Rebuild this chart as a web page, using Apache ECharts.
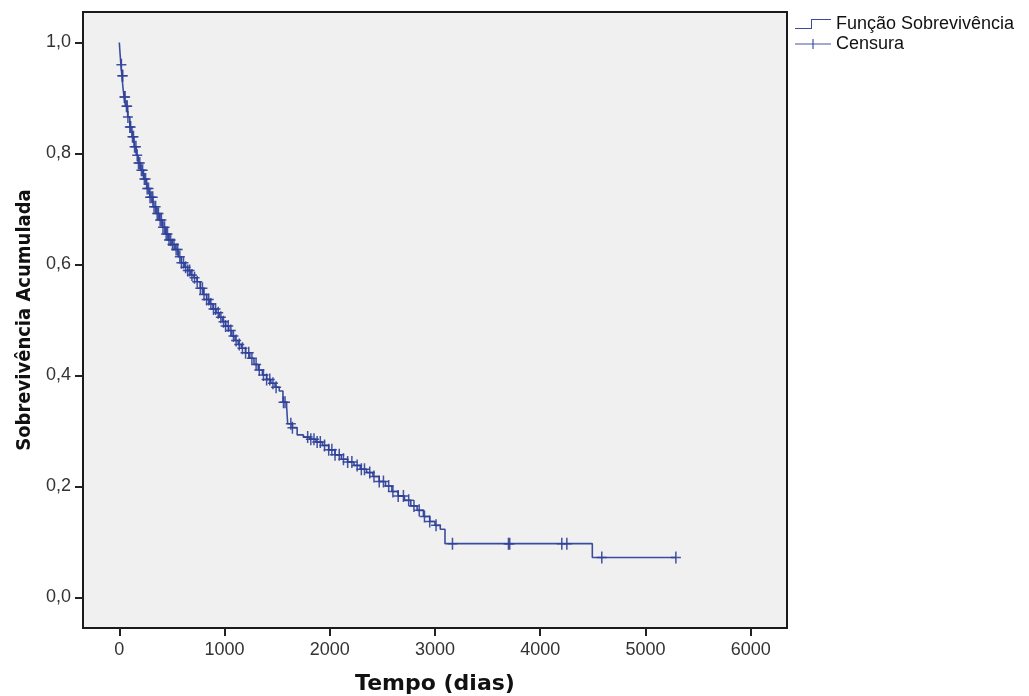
<!DOCTYPE html>
<html>
<head>
<meta charset="utf-8">
<title>Função Sobrevivência</title>
<script src="https://cdn.jsdelivr.net/npm/echarts@6/dist/echarts.min.js"></script>
<style>
  html, body { margin: 0; padding: 0; background: #ffffff; }
  #chart { width: 1029px; height: 696px; }
</style>
</head>
<body>
<div id="chart"></div>
<script>
// Kaplan–Meier estimate: event times (days) and cumulative survival after each drop
const survTime = [
  0, 8, 15, 25, 35, 45, 60, 80, 100, 120, 140, 160, 180, 200, 230, 260, 290, 320,
  350, 380, 410, 440, 470, 500, 530, 560, 590, 620, 650, 680, 710, 740, 770, 800,
  830, 860, 890, 920, 950, 980, 1010, 1040, 1070, 1100, 1130, 1160, 1200, 1240,
  1280, 1320, 1360, 1400, 1440, 1480, 1520, 1555, 1590, 1600, 1645, 1690, 1750,
  1810, 1870, 1930, 1990, 2050, 2110, 2170, 2230, 2290, 2350, 2410, 2470, 2530,
  2590, 2650, 2710, 2770, 2830, 2890, 2950, 3000, 3050, 3095, 4495, 5290
];
const survProb = [
  1.000, 0.978, 0.960, 0.940, 0.918, 0.902, 0.885, 0.866, 0.848, 0.830, 0.812,
  0.797, 0.783, 0.770, 0.754, 0.737, 0.721, 0.704, 0.692, 0.680, 0.667, 0.655,
  0.644, 0.636, 0.627, 0.614, 0.603, 0.595, 0.589, 0.581, 0.576, 0.569, 0.557,
  0.546, 0.537, 0.529, 0.520, 0.513, 0.505, 0.497, 0.489, 0.481, 0.471, 0.463,
  0.456, 0.449, 0.441, 0.431, 0.420, 0.410, 0.401, 0.393, 0.386, 0.379, 0.372,
  0.352, 0.344, 0.313, 0.306, 0.293, 0.289, 0.285, 0.280, 0.274, 0.266, 0.257,
  0.249, 0.244, 0.238, 0.231, 0.225, 0.218, 0.209, 0.201, 0.191, 0.183, 0.175,
  0.165, 0.157, 0.146, 0.137, 0.130, 0.123, 0.097, 0.072, 0.072
];

// Censored observations (days)
const censorTime = [
  20, 28, 33, 48, 55, 68, 75, 82, 100, 108, 125, 135, 145, 158, 170, 182, 195,
  210, 222, 238, 250, 265, 278, 292, 305, 318, 330, 345, 360, 372, 388, 400, 415,
  430, 445, 458, 472, 488, 505, 520, 540, 555, 575, 590, 610, 630, 650, 668, 690,
  715, 740, 770, 790, 805, 830, 850, 870, 895, 915, 940, 965, 990, 1010, 1035,
  1060, 1085, 1110, 1140, 1170, 1200, 1230, 1260, 1300, 1330, 1370, 1400, 1430,
  1460, 1490, 1560, 1575, 1630, 1645, 1790, 1820, 1850, 1880, 1910, 1950, 1990,
  2020, 2050, 2090, 2130, 2170, 2210, 2260, 2300, 2330, 2380, 2420, 2470, 2510,
  2560, 2600, 2650, 2700, 2750, 2800, 2850, 2900, 2950, 3010, 3166, 3698, 3710,
  4205, 4253, 4585, 5289
];

// Axis ticks
const xTicks = [0, 1000, 2000, 3000, 4000, 5000, 6000];
const yTicks = [0, 0.2, 0.4, 0.6, 0.8, 1.0];

const seriesNames = ['Função Sobrevivência', 'Censura'];
const xTitle = 'Tempo (dias)';
const yTitle = 'Sobrevivência Acumulada';

// survival value of the step function at time t
function survivalAt(t) {
  let s = survProb[0];
  for (let i = 0; i < survTime.length; i++) {
    if (survTime[i] <= t) s = survProb[i]; else break;
  }
  return s;
}

const curveData = survTime.map((t, i) => [t, survProb[i]]);
const censorData = censorTime.map(t => [t, survivalAt(t)]);

const lineColor = '#3b4c9e';
const markColor = '#2f4099';
const tickFont = 'Liberation Sans, Arial, sans-serif';

const stepIcon = 'path://M0,9h17v1h-17z M16,0h1v10h-1z M16,0h20v1h-20z';
const crossIcon = 'path://M0,4.5h36v1h-36z M17.4,0h1.2v10h-1.2z';

const chart = echarts.init(document.getElementById('chart'), null, { renderer: 'canvas' });

chart.setOption({
  animation: false,
  backgroundColor: '#ffffff',
  grid: {
    show: true,
    left: 83, top: 12, right: 242, bottom: 68,
    outerBoundsMode: 'none',
    containLabel: false,
    backgroundColor: '#f0f0f0',
    borderColor: '#1a1a1a',
    borderWidth: 2
  },
  legend: {
    orient: 'vertical',
    left: 790, top: 10,
    itemWidth: 36, itemHeight: 10, itemGap: 2,
    selectedMode: false,
    itemStyle: { borderWidth: 0 },
    textStyle: { fontSize: 18, fontFamily: tickFont, color: '#111' },
    data: [
      { name: seriesNames[0], icon: stepIcon },
      { name: seriesNames[1], icon: crossIcon }
    ]
  },
  xAxis: {
    type: 'value',
    min: -345, max: 6345,
    name: xTitle,
    nameLocation: 'middle',
    nameGap: 45,
    nameTextStyle: { fontSize: 22, fontWeight: 'bold', fontFamily: 'DejaVu Sans, Verdana, sans-serif', color: '#111' },
    axisLine: { show: false, onZero: false },
    splitLine: { show: false },
    axisTick: { show: true, length: 8, customValues: xTicks, lineStyle: { color: '#222', width: 2 } },
    axisLabel: {
      customValues: xTicks, fontSize: 18, fontFamily: tickFont, color: '#333', margin: 13,
      formatter: v => String(v)
    }
  },
  yAxis: {
    type: 'value',
    min: -0.055, max: 1.055,
    name: yTitle,
    nameLocation: 'middle',
    nameGap: 47,
    nameRotate: 90,
    nameTextStyle: { fontSize: 20, fontWeight: 'bold', fontFamily: 'Liberation Sans Narrow, DejaVu Sans Condensed, sans-serif', color: '#111' },
    axisLine: { show: false, onZero: false },
    splitLine: { show: false },
    axisTick: { show: true, length: 8, customValues: yTicks, lineStyle: { color: '#222', width: 2 } },
    axisLabel: {
      customValues: yTicks, fontSize: 18, fontFamily: tickFont, color: '#333', margin: 12,
      formatter: v => v.toFixed(1).replace('.', ',')
    }
  },
  series: [
    {
      name: seriesNames[0],
      type: 'line',
      step: 'end',
      data: curveData,
      showSymbol: false,
      color: lineColor,
      lineStyle: { color: lineColor, width: 1.6 },
      itemStyle: { color: lineColor },
      z: 2
    },
    {
      name: seriesNames[1],
      type: 'scatter',
      data: censorData,
      symbol: 'path://M4.25,0h1.5v12h-1.5z M0,5.25h10v1.5h-10z',
      symbolSize: [10, 12],
      color: markColor,
      itemStyle: { color: markColor, opacity: 0.9 },
      z: 3
    }
  ]
});
</script>
</body>
</html>
